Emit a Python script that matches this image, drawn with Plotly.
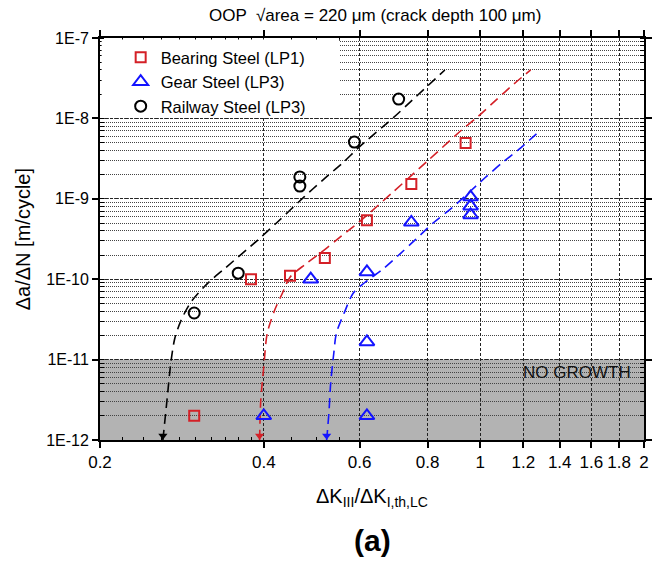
import math
import plotly.graph_objects as go

# ---------------- data ----------------
bearing_x = [0.298, 0.379, 0.447, 0.518, 0.619, 0.747, 0.94]
bearing_y = [2e-12, 1.0e-10, 1.1e-10, 1.84e-10, 5.4e-10, 1.53e-9, 4.94e-9]

gear_x = [0.400, 0.488, 0.619, 0.619, 0.619, 0.747, 0.96, 0.96, 0.96]
gear_y = [2e-12, 1.0e-10, 2e-12, 1.66e-11, 1.23e-10, 5.1e-10, 6.3e-10, 8.1e-10, 1.05e-9]

railway_x = [0.298, 0.359, 0.466, 0.466, 0.587, 0.708]
railway_y = [3.8e-11, 1.19e-10, 1.44e-9, 1.87e-9, 5.08e-9, 1.74e-8]

# dashed fit curves
bearing_fit_x = [0.393, 0.395, 0.400, 0.406, 0.419, 0.433, 0.447, 0.478, 0.522, 0.556,
                 0.599, 0.690, 0.802, 0.925, 0.988, 1.07, 1.153, 1.238]
bearing_fit_y = [1e-12, 3.15e-12, 8.1e-12, 2.14e-11, 4.14e-11, 6.74e-11, 1.06e-10, 1.55e-10,
                 2.44e-10, 3.45e-10, 5.15e-10, 1.2e-9, 3.0e-9, 7.2e-9, 1.04e-8, 1.7e-8,
                 2.68e-8, 4.0e-8]

gear_fit_x = [0.522, 0.527, 0.531, 0.538, 0.544, 0.563, 0.584, 0.612, 0.659, 0.714, 0.760,
              0.819, 0.887, 1.018, 1.097, 1.187, 1.28]
gear_fit_y = [1e-12, 2.17e-12, 5.1e-12, 1.2e-11, 2.14e-11, 3.9e-11, 6.7e-11, 8.97e-11, 1.3e-10,
              2.1e-10, 3.1e-10, 5.0e-10, 7.7e-10, 1.8e-9, 2.8e-9, 4.3e-9, 6.8e-9]

railway_fit_x = [0.261, 0.2656, 0.270, 0.2746, 0.282, 0.294, 0.316, 0.340, 0.390, 0.424, 0.474,
                 0.516, 0.561, 0.599, 0.690, 0.751, 0.861]
railway_fit_y = [1e-12, 3.15e-12, 9.3e-12, 1.86e-11, 3.1e-11, 5.2e-11, 9e-11, 1.38e-10, 3.07e-10,
                 5.15e-10, 1.05e-9, 1.76e-9, 2.87e-9, 4.4e-9, 1.0e-8, 1.7e-8, 4.0e-8]

# thresholds (arrow positions on the x axis)
threshold_x = [0.261, 0.393, 0.522]
arrow_y = [1.13e-12, 1.13e-12, 1.13e-12]

x_ticks = [0.2, 0.4, 0.6, 0.8, 1.0, 1.2, 1.4, 1.6, 1.8, 2.0]
x_ticktext = ["0.2", "0.4", "0.6", "0.8", "1", "1.2", "1.4", "1.6", "1.8", "2"]
x_minor = [0.22, 0.24, 0.26, 0.28, 0.30, 0.32, 0.34, 0.36, 0.38, 0.45, 0.5, 0.55]
y_ticks = [1e-12, 1e-11, 1e-10, 1e-9, 1e-8, 1e-7]
y_ticktext = ["1E-12", "1E-11", "1E-10", "1E-9", "1E-8", "1E-7"]

RED = "#d42027"
BLUE = "#1414ff"
BLACK = "#000000"
FONT = "Liberation Sans, Arial, sans-serif"

fig = go.Figure()

# fit curves
for fx, fy, col in [(railway_fit_x, railway_fit_y, BLACK),
                    (bearing_fit_x, bearing_fit_y, RED),
                    (gear_fit_x, gear_fit_y, BLUE)]:
    fig.add_trace(go.Scatter(x=fx, y=fy, mode="lines", showlegend=False,
                             line=dict(color=col, width=1.6, dash="10px,6px", shape="spline",
                                       smoothing=0.8),
                             hoverinfo="skip"))

# arrow heads
fig.add_trace(go.Scatter(x=threshold_x, y=arrow_y, mode="markers", showlegend=False,
                         marker=dict(symbol="triangle-down", size=8,
                                     color=[BLACK, RED, BLUE], line=dict(width=0)),
                         cliponaxis=False, hoverinfo="skip"))

# data points
fig.add_trace(go.Scatter(x=bearing_x, y=bearing_y, mode="markers", name="Bearing Steel (LP1)",
                         marker=dict(symbol="square-open", size=10, color=RED,
                                     line=dict(width=2, color=RED)), cliponaxis=False))
fig.add_trace(go.Scatter(x=gear_x, y=gear_y, mode="markers", name="Gear Steel (LP3)",
                         marker=dict(symbol="triangle-up-open", size=13, color=BLUE,
                                     line=dict(width=2, color=BLUE)), cliponaxis=False))
fig.add_trace(go.Scatter(x=railway_x, y=railway_y, mode="markers", name="Railway Steel (LP3)",
                         marker=dict(symbol="circle-open", size=11, color=BLACK,
                                     line=dict(width=2, color=BLACK)), cliponaxis=False))

# shaded no-growth band and white legend backdrop
fig.add_shape(type="rect", xref="paper", yref="paper", x0=0, x1=1, y0=0, y1=0.2,
              fillcolor="#b3b3b3", line=dict(width=0), layer="below")
fig.add_shape(type="rect", xref="paper", yref="paper", x0=0.003, x1=0.44, y0=0.805, y1=0.996,
              fillcolor="white", line=dict(width=0), layer="above")

fig.add_annotation(text="NO GROWTH", xref="paper", yref="paper", x=0.98, y=0.169,
                   xanchor="right", yanchor="middle", showarrow=False,
                   font=dict(family=FONT, size=17, color="#111"))

fig.add_annotation(text="OOP  \u221aarea = 220 \u03bcm (crack depth 100 \u03bcm)",
                   xref="paper", yref="paper", x=0.505, y=1.057, xanchor="center",
                   yanchor="middle", showarrow=False, font=dict(family=FONT, size=17, color="black"))
fig.add_annotation(text="\u0394K<sub>III</sub>/\u0394K<sub>I,th,LC</sub>",
                   xref="paper", yref="paper", x=0.5, y=-0.142, xanchor="center",
                   yanchor="middle", showarrow=False, font=dict(family=FONT, size=20, color="black"))
fig.add_annotation(text="<b>(a)</b>", xref="paper", yref="paper", x=0.5, y=-0.251,
                   xanchor="center", yanchor="middle", showarrow=False,
                   font=dict(family=FONT, size=30, color="black"))
fig.add_annotation(text="\u0394a/\u0394N [m/cycle]", xref="paper", yref="paper",
                   x=-0.141, y=0.5, xanchor="center", yanchor="middle", textangle=-90,
                   showarrow=False, font=dict(family=FONT, size=20, color="black"))

fig.update_xaxes(type="log", range=[math.log10(0.2), math.log10(2.0)],
                 tickmode="array", tickvals=x_ticks, ticktext=x_ticktext,
                 ticks="outside", ticklen=6, tickwidth=1.5, tickcolor="black",
                 showline=True, linecolor="black", linewidth=2, mirror="ticks",
                 showgrid=True, gridcolor="#222", gridwidth=1, griddash="3px,2px",
                 zeroline=False, tickfont=dict(family=FONT, size=17, color="black"),
                 minor=dict(tickmode="array", tickvals=x_minor, ticks="inside", ticklen=3,
                            tickcolor="black", tickwidth=1, showgrid=False))
fig.update_yaxes(type="log", range=[-12, -7], tickmode="array", tickvals=y_ticks,
                 ticktext=y_ticktext, ticks="outside", ticklen=6, tickwidth=1.5,
                 tickcolor="black", showline=True, linecolor="black", linewidth=1.8,
                 mirror="allticks", showgrid=True, gridcolor="#222", gridwidth=1,
                 griddash="3px,2px", zeroline=False,
                 tickfont=dict(family=FONT, size=16, color="black"),
                 minor=dict(dtick="D1", ticks="inside", ticklen=4, tickcolor="black",
                            tickwidth=1, showgrid=True, gridcolor="#444", gridwidth=1,
                            griddash="1px,1px"))

fig.update_layout(width=656, height=562, margin=dict(l=100, r=4, t=38, b=122),
                  paper_bgcolor="white", plot_bgcolor="white",
                  font=dict(family=FONT, size=16, color="black"),
                  legend=dict(x=0.038, y=0.995, xanchor="left", yanchor="top",
                              bgcolor="rgba(0,0,0,0)", borderwidth=0,
                              font=dict(family=FONT, size=16.5, color="black"),
                              tracegroupgap=0, itemwidth=30))

fig.write_html("out.html")
